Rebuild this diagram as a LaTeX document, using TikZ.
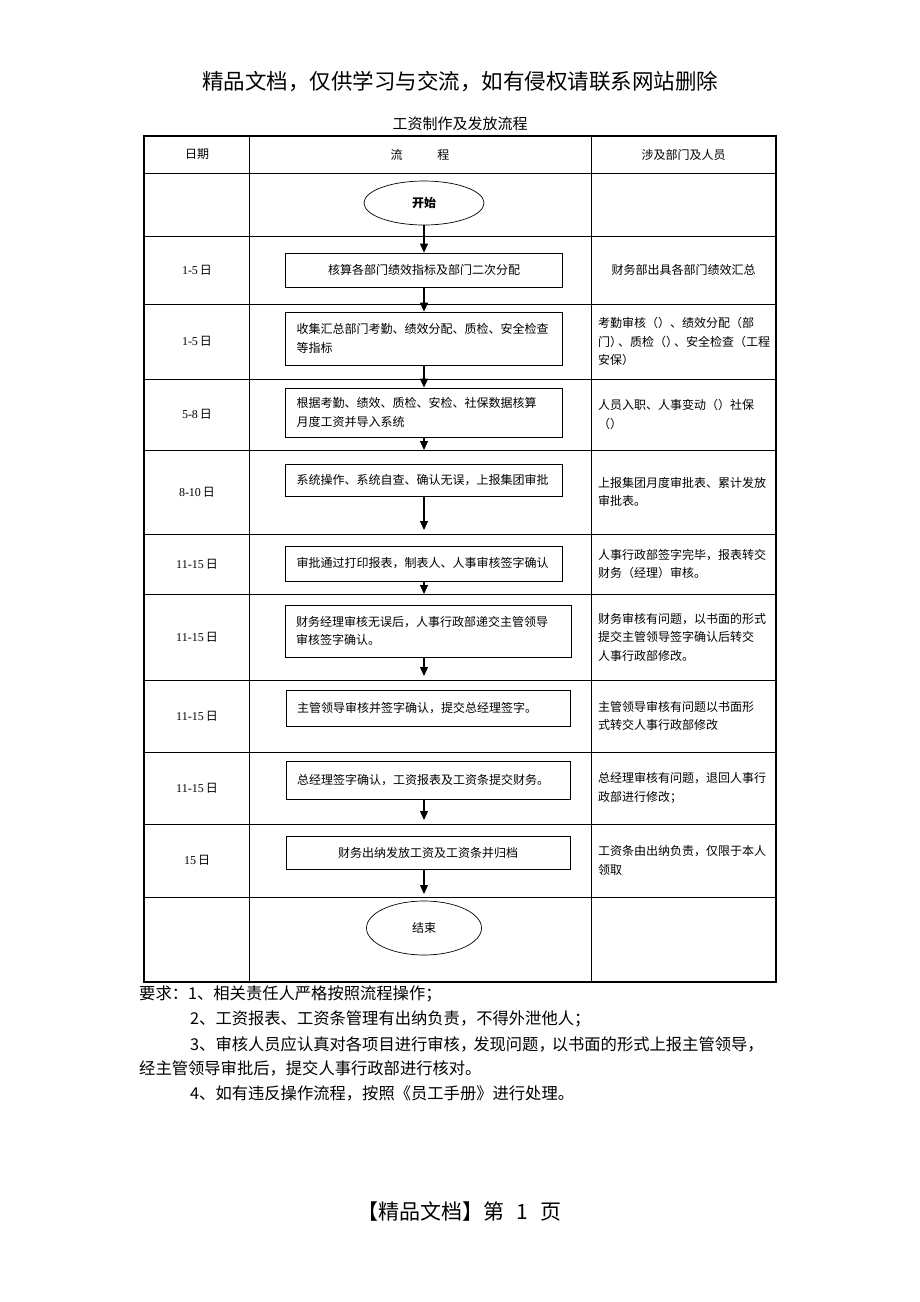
\documentclass[tikz,border=0pt]{standalone}
\usepackage{fontspec}
\setmainfont{Liberation Serif}
\newfontfamily\cjk{Noto Sans CJK SC}
\usetikzlibrary{shapes.geometric,arrows.meta}

\newcommand\riqi[1]{{\rmfamily #1}\,日}

\begin{document}
\begin{tikzpicture}[
  x=1pt, y=-1pt,
  font=\cjk\fontsize{12}{18.5}\selectfont,
  box/.style={draw, line width=0.8pt, inner xsep=11pt, inner ysep=2pt,
              align=left, text width=#1},
  box/.default=255pt,
  term/.style={draw, ellipse, line width=0.7pt, inner sep=0pt},
  dept/.style={text width=182pt, align=left, inner sep=0pt, anchor=west},
  txt/.style={inner sep=0pt},
  arr/.style={-{Triangle[length=9pt,width=8pt]}, line width=1.2pt}]
\useasboundingbox (0,0) rectangle (920,1302);
% titles
\node[txt, font=\cjk\fontsize{21.5}{24}\selectfont] (wm) at (460,82) {精品文档，仅供学习与交流，如有侵权请联系网站删除};
\node[txt, font=\cjk\fontsize{15}{18}\selectfont] (ttl) at (460,124) {工资制作及发放流程};
% table
\draw[line width=0.8pt] (249,136) -- (249,982) (591,136) -- (591,982)
  (144,173) -- (776,173) (144,236) -- (776,236) (144,304) -- (776,304)
  (144,379) -- (776,379) (144,450) -- (776,450) (144,534) -- (776,534)
  (144,594) -- (776,594) (144,680) -- (776,680) (144,752) -- (776,752)
  (144,824) -- (776,824) (144,897) -- (776,897);
\draw[line width=2pt] (144,136) rectangle (776,982);
\node[txt] (h1) at (197,154.5) {日期};
\node[txt] (h2) at (420,154.5) {流\hspace{35pt}程};
\node[txt] (h3) at (683.5,154.5) {涉及部门及人员};
% dates
\node[txt] (d1) at (197,270) {\riqi{1-5}};
\node[txt] (d2) at (197,341.5) {\riqi{1-5}};
\node[txt] (d3) at (197,414.5) {\riqi{5-8}};
\node[txt] (d4) at (197,492) {\riqi{8-10}};
\node[txt] (d5) at (197,564) {\riqi{11-15}};
\node[txt] (d6) at (197,637) {\riqi{11-15}};
\node[txt] (d7) at (197,716) {\riqi{11-15}};
\node[txt] (d8) at (197,788) {\riqi{11-15}};
\node[txt] (d9) at (197,860.5) {\riqi{15}};
% flow
\node[term, minimum width=120pt, minimum height=44pt, font=\cjk\bfseries\fontsize{12}{14}\selectfont] (start) at (424,203) {开始};
\node[box, align=center, minimum height=34pt] (s1) at (424,270) {核算各部门绩效指标及部门二次分配};
\node[box, minimum height=53pt] (s2) at (424,338.5) {收集汇总部门考勤、绩效分配、质检、安全检查\\等指标};
\node[box, minimum height=49pt] (s3) at (424,412.5) {根据考勤、绩效、质检、安检、社保数据核算\\月度工资并导入系统};
\node[box, minimum height=32pt] (s4) at (424,480) {系统操作、系统自查、确认无误，上报集团审批};
\node[box, minimum height=35pt] (s5) at (424,563.5) {审批通过打印报表，制表人、人事审核签字确认};
\node[box=264pt, minimum height=52pt] (s6) at (428,631) {财务经理审核无误后，人事行政部递交主管领导\\审核签字确认。};
\node[box=262pt, minimum height=36pt] (s7) at (428,708) {主管领导审核并签字确认，提交总经理签字。};
\node[box=262pt, minimum height=38pt] (s8) at (428,780) {总经理签字确认，工资报表及工资条提交财务。};
\node[box=262pt, align=center, minimum height=33pt] (s9) at (428,852.5) {财务出纳发放工资及工资条并归档};
\node[term, minimum width=115pt, minimum height=54pt] (end) at (424,928) {结束};
\coordinate (a3) at (424,450);
\coordinate (a4) at (424,530);
\coordinate (a5) at (424,594);
\coordinate (a6) at (424,676);
\coordinate (a8) at (424,820);
\coordinate (a9) at (424,894);
\draw[arr] (start) -- (s1);
\draw[arr] (s1) -- (s2);
\draw[arr] (s2) -- (s3);
\draw[arr] (s3) -- (a3);
\draw[arr] (s4) -- (a4);
\draw[arr] (s5) -- (a5);
\draw[arr] (s6.south -| a6) -- (a6);
\draw[arr] (s8.south -| a8) -- (a8);
\draw[arr] (s9.south -| a9) -- (a9);
% departments
\node[txt] (b1) at (683.5,270) {财务部出具各部门绩效汇总};
\node[dept] (b2) at (598,341.5) {考勤审核（）、绩效分配（部\\门）\kern-4pt、质检（）\kern-4pt、安全检查（工程\\安保）};
\node[dept] (b3) at (598,414.5) {人员入职、人事变动（）社保\\（）};
\node[dept] (b4) at (598,492) {上报集团月度审批表、累计发放\\审批表。};
\node[dept] (b5) at (598,564) {人事行政部签字完毕，报表转交\\财务（经理）审核。};
\node[dept] (b6) at (598,637) {财务审核有问题，以书面的形式\\提交主管领导签字确认后转交\\人事行政部修改。};
\node[dept] (b7) at (598,716) {主管领导审核有问题以书面形\\式转交人事行政部修改};
\node[dept] (b8) at (598,788) {总经理审核有问题，退回人事行\\政部进行修改；};
\node[dept] (b9) at (598,860.5) {工资条由出纳负责，仅限于本人\\领取};
% requirements
\begin{scope}[every node/.style={txt, anchor=west, font=\cjk\fontsize{16.3}{20}\selectfont}]
\node (f1) at (139,994) {要求：1、相关责任人严格按照流程操作；};
\node (f2) at (190,1019) {2、工资报表、工资条管理有出纳负责，不得外泄他人；};
\node (f3) at (190,1044) {3、审核人员应认真对各项目进行审核，\kern-3pt发现问题，\kern-3pt以书面的形式上报主管领导，};
\node (f4) at (139,1068) {经主管领导审批后，提交人事行政部进行核对。};
\node (f5) at (190,1093) {4、如有违反操作流程，按照《员工手册》进行处理。};
\end{scope}
\node[txt, font=\cjk\fontsize{21}{24}\selectfont] (pg) at (459.5,1211) {【精品文档】第\hspace{12pt}1\hspace{12pt}页};
\end{tikzpicture}
\end{document}
